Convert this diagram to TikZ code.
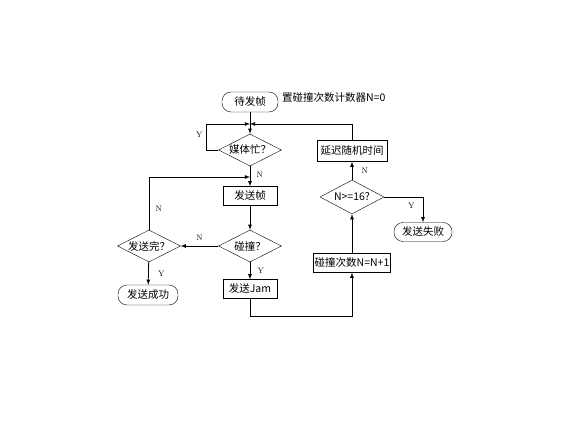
\documentclass[tikz,border=0pt]{standalone}
\usepackage{fontspec}
\newfontfamily\cjk{Noto Sans CJK SC}
\usetikzlibrary{shapes.geometric,arrows,calc}
\tikzset{terminal/.style={draw, rectangle, rounded corners=9pt, minimum width=56pt, minimum height=20pt, inner sep=1pt, font=\fontsize{10.5}{12}\cjk}}
\tikzset{proc/.style={draw, rectangle, minimum width=54pt, minimum height=19pt, inner sep=2pt, font=\fontsize{10.5}{12}\cjk}}
\tikzset{decide/.style={draw, diamond, aspect=2, inner sep=0pt, minimum width=63pt, minimum height=32pt, font=\fontsize{10.5}{12}\cjk}}
\tikzset{lbl/.style={font=\fontsize{8}{9}\rmfamily}}
\tikzset{arc/.style={->, >=latex, line width=0.8pt}}

\begin{document}
\begin{tikzpicture}[x=1pt, y=-1pt]
\useasboundingbox (0,0) rectangle (572,443);
%start
\node (wait) at (250,102)[terminal]{待发帧};
\node[anchor=west] (init) at (282,98)[font=\fontsize{10.5}{12}\cjk, inner sep=0pt]{置碰撞次数计数器N=0};
\coordinate (m1) at (250,124);
\coordinate (m2) at (250,177);
%middle column
\node (busy) at (250,150)[decide]{媒体忙？};
\node (send) at (250,196)[proc]{发送帧};
\node (coll) at (250,246)[decide]{碰撞？};
\node (jam) at (250,289)[proc]{发送Jam};
%left column
\node (done) at (149,246)[decide]{发送完？};
\node (succ) at (148,295)[terminal, minimum width=60pt]{发送成功};
%right column
\node (cnt) at (352,263)[proc, minimum width=71pt, inner sep=1pt]{碰撞次数N=N+1};
\node (max) at (352,197)[decide, minimum width=64pt, minimum height=34pt]{N>=16?};
\node (delay) at (352,151)[proc, minimum width=70pt, minimum height=21pt]{延迟随机时间};
\node (fail) at (423,232)[terminal, minimum width=58pt, minimum height=19pt]{发送失败};

\draw[arc] (wait)--(busy);
\draw[arc] (busy.west)--++(-12,0)|-(m1)node[lbl, pos=0.3, left]{Y};
\draw[arc] (delay.north)|-(m1);
\draw[arc] (busy)--(send)node[lbl, pos=0.45, right=3pt]{N};
\draw[arc] (done.north)|-(m2)node[lbl, pos=0.2, right=3pt]{N};
\draw[arc] (send)--(coll);
\draw[arc] (coll)--(done)node[lbl, pos=0.5, above=2pt]{N};
\draw[arc] (coll)--(jam)node[lbl, pos=0.5, right=4pt]{Y};
\draw[arc] (done)--(succ)node[lbl, pos=0.5, right=6pt]{Y};
\draw[arc] (jam.south)--++(0,18)-|(cnt.south);
\draw[arc] (cnt)--(max);
\draw[arc] (max)--(delay)node[lbl, pos=0.5, right=6pt]{N};
\draw[arc] (max.east)-|(fail)node[lbl, pos=0.35, below=2pt]{Y};
\end{tikzpicture}
\end{document}
